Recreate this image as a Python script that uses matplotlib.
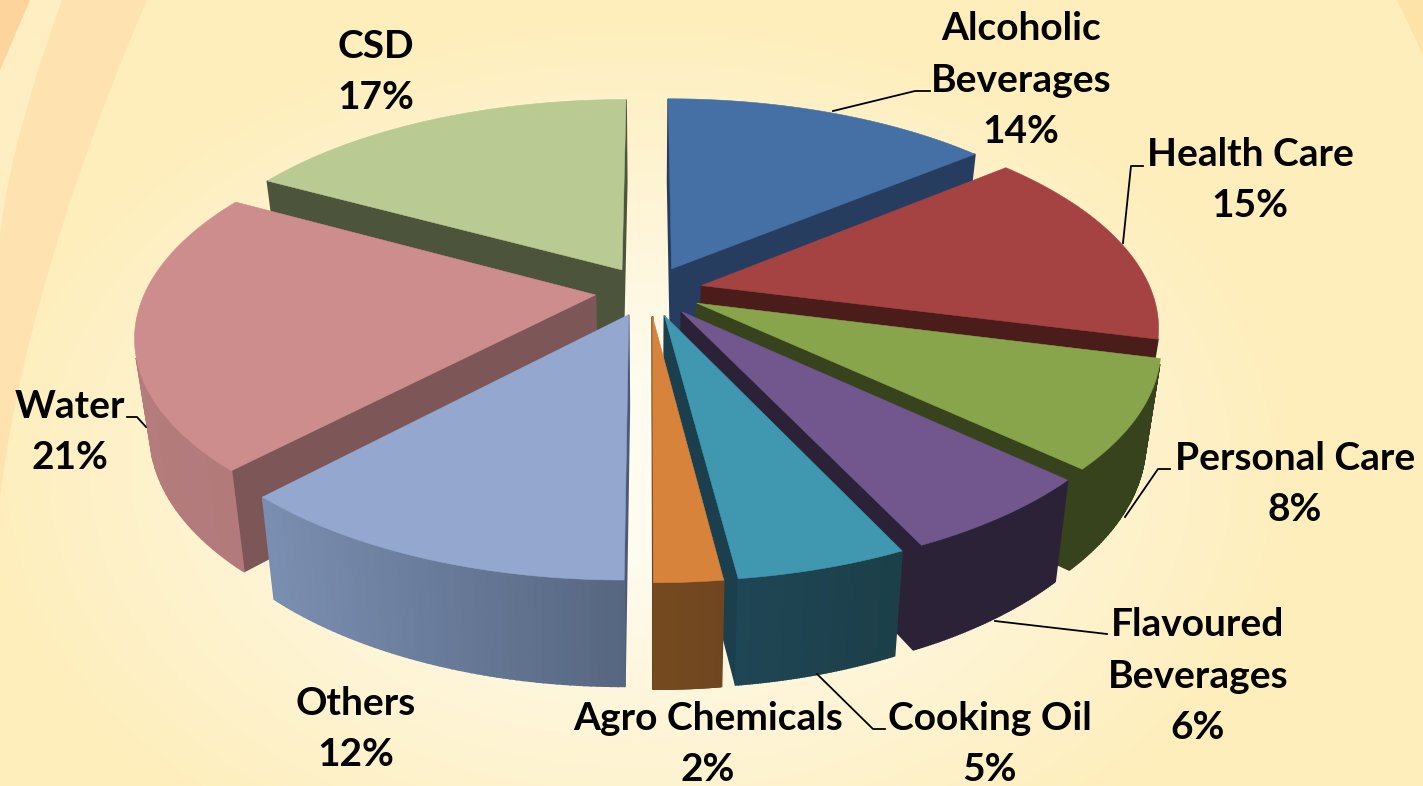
import numpy as np
import matplotlib
matplotlib.use('Agg')
import matplotlib.pyplot as plt
from matplotlib.patches import Polygon
from matplotlib.colors import to_rgb

categories = ['Alcoholic\nBeverages', 'Health Care', 'Personal Care', 'Flavoured\nBeverages',
              'Cooking Oil', 'Agro Chemicals', 'Others', 'Water', 'CSD']
shares = [14, 15, 8, 6, 5, 2, 12, 21, 17]

top_colors = ['#4470a5', '#a54342', '#88a54c', '#72568e', '#3f97b0', '#d8833b', '#94a7cf', '#ce8d8d', '#b9ca93']
cut_colors = ['#263d60', '#4a1c1a', '#37431d', '#2c2238', '#1b3f4c', '#5e3b18', '#4c5a75', '#7d5658', '#4c543c']
side_left = ['#2a4468', '#4a1c1a', '#37431d', '#2c2238', '#21495c', '#754a20', '#7b8fb2', '#b57c7c', '#4c543c']
side_right = ['#2a4468', '#4a1c1a', '#37431d', '#2c2238', '#1c3f48', '#6f4620', '#566680', '#a87373', '#4c543c']

# label centre, and leader line for the labels that have one
label_pos = [(1021, 80), (1250, 180), (1295, 484), (1198, 676), (990, 744), (708, 744), (356, 729), (70, 432), (376, 72)]
leaders = [[(833, 111), (915, 91), (930, 91)],
           [(1123, 243), (1131, 166), (1143, 166)],
           [(1125, 517), (1158, 469), (1170, 469)],
           [(995, 621), (1107, 634)],
           [(817, 674), (873, 729), (885, 729)],
           None, None,
           [(146, 427), (137, 417), (127, 417)],
           None]

# view of the disc
cx, cy = 649, 291
rx, ry = 450, 208
persp = 0.18
depth = 92
shrink = 0.03
explode = 0.12


def project(X, Y, low=False):
    w = 1 + persp * Y
    k = 1 - shrink if low else 1.0
    px = cx + rx * X / w * k
    py = cy - ry * Y / w * k
    if low:
        py = py + depth / w
    return np.array([px, py]).T


def background():
    yy, xx = np.mgrid[0:786, 0:1423]
    d = np.sqrt(((xx - 640) / 900.0) ** 2 + ((yy - 470) / 620.0) ** 2)
    t = np.clip((d - 0.15) / 0.6, 0, 1)[..., None]
    inner = np.array(to_rgb('#fffbee'))
    outer = np.array(to_rgb('#feeebb'))
    return inner * (1 - t) + outer * t


fig = plt.figure(figsize=(14.23, 7.86), dpi=100)
ax = fig.add_axes([0, 0, 1, 1])
ax.imshow(background(), extent=(0, 1423, 786, 0), aspect='auto', zorder=0)

# swooshes at the left edge and the top right corner
t = np.linspace(0, 1, 40)
band_out = np.c_[147 * (1 - t) ** 1.6 - 5 * t, 560 * t]
ax.add_patch(Polygon(np.r_[band_out, [[0, 560], [0, 0]]], fc='#fee0ae', ec='none', alpha=0.85, zorder=1))
band_light = np.c_[62 * (1 - t) ** 1.4, 240 * t]
ax.add_patch(Polygon(np.r_[band_light, [[0, 240], [0, 0]]], fc='#feeec2', ec='none', zorder=1))
band_in = np.c_[30 * (1 - t), 70 * t]
ax.add_patch(Polygon(np.r_[band_in, [[0, 70], [0, 0]]], fc='#fdd49b', ec='none', zorder=1))
ax.add_patch(Polygon([[1397, 0], [1423, 0], [1423, 55]], fc='#fde3a8', ec='none', zorder=1))

ends = np.cumsum(shares) / np.sum(shares) * 2 * np.pi
starts = np.r_[0, ends[:-1]]
mids = (starts + ends) / 2
order = np.argsort(-np.cos(mids))

for z, i in enumerate(order):
    ox, oy = explode * np.sin(mids[i]), explode * np.cos(mids[i])
    th = np.linspace(starts[i], ends[i], 61)
    X = np.r_[ox, ox + np.sin(th)]
    Y = np.r_[oy, oy + np.cos(th)]
    hi = project(X, Y)
    lo = project(X, Y, low=True)
    n = len(X)

    xmin, xmax = hi[:, 0].min(), hi[:, 0].max()
    left = np.array(to_rgb(side_left[i]))
    right = np.array(to_rgb(side_right[i]))

    # walk round the slice edge, keep the wall pieces that face the viewer
    walls = []
    for a in range(n):
        b = (a + 1) % n
        quad = np.array([hi[a], hi[b], lo[b], lo[a]])
        x, y = quad[:, 0], quad[:, 1]
        area = np.sum(x * np.roll(y, -1) - np.roll(x, -1) * y)
        if area >= 0:
            continue
        if a == 0 or b == 0:
            walls.insert(0, (quad, cut_colors[i]))
        else:
            f = (quad[:, 0].mean() - xmin) / max(xmax - xmin, 1)
            walls.append((quad, tuple(left * (1 - f) + right * f)))
    for quad, col in walls:
        ax.add_patch(Polygon(quad, fc=col, ec=col, lw=1.2, zorder=2 + z))
    ax.add_patch(Polygon(hi, fc=top_colors[i], ec=top_colors[i], lw=0.4, zorder=2 + z))

for name, val, pos, line in zip(categories, shares, label_pos, leaders):
    ax.text(pos[0], pos[1], f'{name}\n{val}%', family='Lato', fontweight='bold', fontsize=28,
            ha='center', va='center', multialignment='center', linespacing=1.56, color='black', zorder=30)
    if line is not None:
        pts = np.array(line)
        ax.plot(pts[:, 0], pts[:, 1], color='black', lw=1.3, zorder=29)

ax.set_xlim(0, 1423)
ax.set_ylim(786, 0)
ax.axis('off')
fig.savefig('out.png', dpi=100)
